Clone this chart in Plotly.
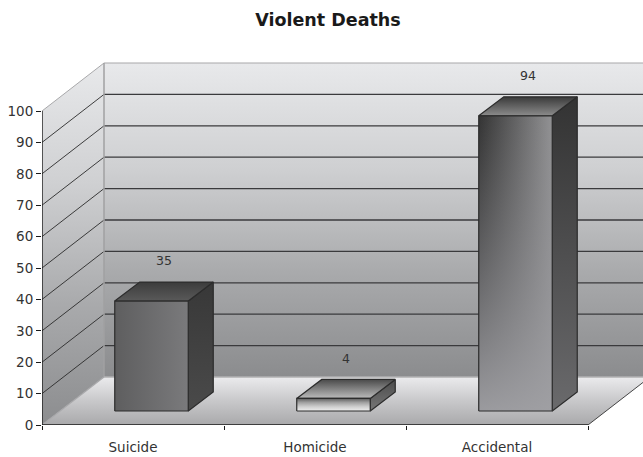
import plotly.graph_objects as go

TITLE = "Violent Deaths"
CATEGORIES = ["Suicide", "Homicide", "Accidental"]
VALUES = [35, 4, 94]
Y_TICKS = [0, 10, 20, 30, 40, 50, 60, 70, 80, 90, 100]

# Projection of the depth direction, in axis units
PX_X, PX_Y = 182.0, 3.14
WALL_DX, WALL_DY = 62 / PX_X, 48 / PX_Y
BAR_OFF_X, BAR_OFF_Y = 18.5 / PX_X, 14 / PX_Y
BAR_DX, BAR_DY = 25 / PX_X, 19 / PX_Y
BAR_W = 73.5 / PX_X
X0, X1 = -0.5, 2.5
FONT = "DejaVu Sans"

FACE_STYLES = [
    dict(front=("horizontal", ["#5e5e5f", "#7a7a7c"], None),
         top=("vertical", ["#5a5a5a", "#3c3c3c"]),
         side=("vertical", ["#4a4a4a", "#383838"])),
    dict(front=("vertical", ["#eeeeee", "#cfcfcf", "#a2a2a2", "#5e5e5e"], None),
         top=("vertical", ["#bcbcbc", "#4a4a4a"]),
         side=("vertical", ["#777777", "#4c4c4c"])),
    dict(front=("horizontal", ["#343434", "#929294"], ["rgba(160,160,164,0.95)", "rgba(140,140,144,0.0)"]),
         top=("vertical", ["#8c8c8c", "#3a3a3a"]),
         side=("vertical", ["#6a6a6c", "#333333"])),
]

fig = go.Figure()


def poly(xs, ys, kind, stops, line=None):
    n = len(stops) - 1
    scale = [[i / n, c] for i, c in enumerate(stops)]
    fig.add_trace(go.Scatter(
        x=xs + xs[:1], y=ys + ys[:1], mode="lines" if line else "none", fill="toself",
        fillgradient=dict(type=kind, colorscale=scale),
        line=dict(color=line, width=1.2) if line else None,
        hoverinfo="skip", showlegend=False))


def line(xs, ys, color, width=1.0):
    fig.add_trace(go.Scatter(x=xs, y=ys, mode="lines", line=dict(color=color, width=width),
                             hoverinfo="skip", showlegend=False))


top_v = Y_TICKS[-1]
bx0, bx1 = X0 + WALL_DX, X1 + WALL_DX

# Back wall, side wall, floor
poly([bx0, bx1, bx1, bx0], [WALL_DY, WALL_DY, top_v + WALL_DY, top_v + WALL_DY], "vertical",
     ["#8b8c8e", "#a9aaac", "#cfd0d2", "#e8e9eb"])
poly([X0, bx0, bx0, X0], [0, WALL_DY, top_v + WALL_DY, top_v], "vertical",
     ["#8c8d8f", "#a9aaac", "#cfd0d2", "#e8e9eb"])
poly([X0, X1, bx1, bx0], [0, 0, WALL_DY, WALL_DY], "vertical", ["#a9a9ab", "#c8c8ca", "#ebebed"])

# Gridlines
for v in Y_TICKS[1:-1]:
    line([bx0, bx1], [v + WALL_DY, v + WALL_DY], "#3a3a3c", 1.3)
    line([X0, bx0], [v, v + WALL_DY], "#2a2a2a", 0.9)
line([bx0, bx1], [top_v + WALL_DY] * 2, "#a8a8aa", 1.2)
line([X0, bx0], [top_v, top_v + WALL_DY], "#a8a8aa", 1.0)
line([bx0, bx0], [WALL_DY, top_v + WALL_DY], "#a0a0a2", 1.5)
line([bx0, bx1], [WALL_DY, WALL_DY], "#b0b0b2", 1.5)
line([X0, bx0], [0, WALL_DY], "#a8a8aa", 1.2)
line([X1, bx1], [0, WALL_DY], "#333333", 0.9)

# Bars
for i, v in enumerate(VALUES):
    st = FACE_STYLES[i]
    xl = i + BAR_OFF_X - BAR_W / 2
    xr = i + BAR_OFF_X + BAR_W / 2
    yb, yt = BAR_OFF_Y, BAR_OFF_Y + v
    edge = "#2c2c2c"
    poly([xr, xr + BAR_DX, xr + BAR_DX, xr], [yb, yb + BAR_DY, yt + BAR_DY, yt],
         st["side"][0], st["side"][1], edge)
    poly([xl, xr, xr + BAR_DX, xl + BAR_DX], [yt, yt, yt + BAR_DY, yt + BAR_DY],
         st["top"][0], st["top"][1], edge)
    kind, stops, overlay = st["front"]
    poly([xl, xr, xr, xl], [yb, yb, yt, yt], kind, stops)
    if overlay:
        poly([xl, xr, xr, xl], [yb, yb, yt, yt], "vertical", overlay)
    line([xl, xr, xr, xl, xl], [yb, yb, yt, yt, yb], edge, 1.2)

# Value labels
fig.add_trace(go.Scatter(
    x=[i + BAR_OFF_X + BAR_DX / 2 for i in range(len(VALUES))],
    y=[v + BAR_OFF_Y + BAR_DY + 20 / PX_Y for v in VALUES],
    text=[str(v) for v in VALUES], mode="text", textposition="middle center",
    textfont=dict(family=FONT, size=12.5, color="#333333"),
    hoverinfo="skip", showlegend=False))

# Axis lines that stop where the chart's frame stops
line([X0, X0], [0, top_v], "#1a1a1a", 1.4)
line([X0, X1], [0, 0], "#1a1a1a", 1.4)

WIDTH, HEIGHT = 643, 457
M_LEFT, M_TOP, M_BOTTOM = 42, 60, 32
fig.update_layout(
    width=WIDTH, height=HEIGHT, autosize=False,
    margin=dict(l=M_LEFT, r=0, t=M_TOP, b=M_BOTTOM, pad=0),
    paper_bgcolor="white", plot_bgcolor="white", showlegend=False,
    title=dict(text="<b>%s</b>" % TITLE, x=328 / WIDTH, xanchor="center",
               y=1 - 20 / HEIGHT, yanchor="middle",
               font=dict(family=FONT, size=17.5, color="#1a1a1a")),
    font=dict(family=FONT, size=13, color="#333333"),
    xaxis=dict(range=[X0, X0 + (WIDTH - M_LEFT) / PX_X], tickmode="array", tickvals=list(range(len(CATEGORIES))),
               ticktext=CATEGORIES, ticks="", showgrid=False, zeroline=False, showline=False,
               ticklabelstandoff=12, tickfont=dict(family=FONT, size=13.5, color="#333333"),
               minor=dict(tickmode="array", tickvals=[X0 + k for k in range(len(CATEGORIES) + 1)],
                          ticks="outside", ticklen=4, tickcolor="#1a1a1a", tickwidth=1.2, showgrid=False)),
    yaxis=dict(range=[0, (HEIGHT - M_BOTTOM - M_TOP) / PX_Y], tickmode="array", tickvals=Y_TICKS,
               ticks="outside", ticklen=5, tickcolor="#1a1a1a", tickwidth=1.2, showgrid=False,
               zeroline=False, showline=False, tickfont=dict(family=FONT, size=13.5, color="#333333")),
)

fig.write_html("out.html", config=dict(displayModeBar=False),
               post_script="document.body.style.margin='0';document.documentElement.style.overflow='hidden';")
